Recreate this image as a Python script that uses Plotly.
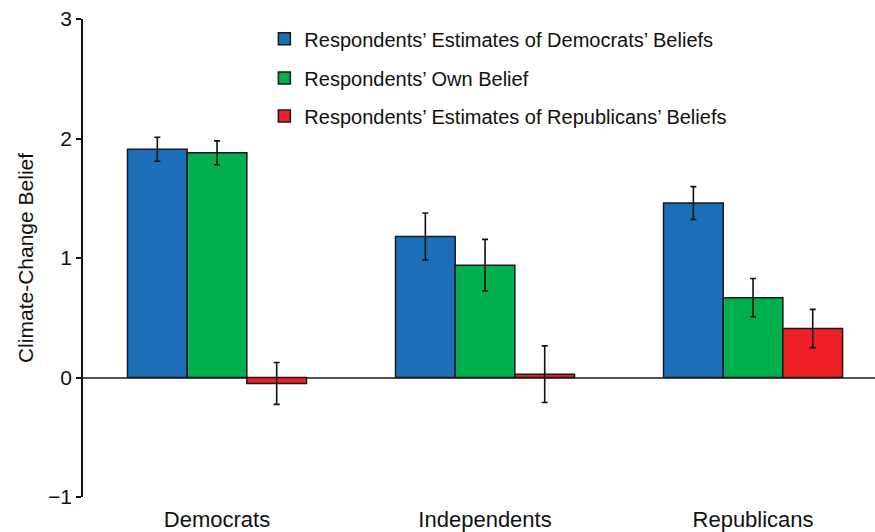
import plotly.graph_objects as go

categories = ["Democrats", "Independents", "Republicans"]
series_names = [
    "Respondents’ Estimates of Democrats’ Beliefs",
    "Respondents’ Own Belief",
    "Respondents’ Estimates of Republicans’ Beliefs",
]
dem_estimates = [1.91, 1.18, 1.46]
dem_estimates_err = [0.10, 0.197, 0.137]
own_belief = [1.88, 0.94, 0.668]
own_belief_err = [0.10, 0.216, 0.16]
rep_estimates = [-0.05, 0.028, 0.41]
rep_estimates_err = [0.175, 0.237, 0.16]
y_tick_vals = [-1, 0, 1, 2, 3]
y_tick_text = ["\u22121", "0", "1", "2", "3"]

colors = ["#1B6EB7", "#00AF4E", "#EE1F26"]
values = [dem_estimates, own_belief, rep_estimates]
errors = [dem_estimates_err, own_belief_err, rep_estimates_err]
legend_ids = ["legend", "legend2", "legend3"]

FONT = "Liberation Sans, Arial, Helvetica, sans-serif"

fig = go.Figure()
for name, vals, errs, col, lg in zip(series_names, values, errors, colors, legend_ids):
    fig.add_trace(go.Bar(
        x=categories, y=vals, name=name, legend=lg,
        marker=dict(color=col, line=dict(color="#1a1a1a", width=1.5)),
        error_y=dict(type="data", array=errs, visible=True,
                     color="#111111", thickness=1.6, width=3),
    ))

PLOT_TOP, PLOT_H = 19, 478
def ypaper(py):
    return (PLOT_TOP + PLOT_H - py) / PLOT_H

legend_common = dict(
    xanchor="left", yanchor="middle", x=0.229,
    font=dict(family=FONT, size=20, color="#111"),
    bgcolor="rgba(0,0,0,0)", borderwidth=0,
)
fig.update_layout(
    width=875, height=532,
    margin=dict(l=83, r=0, t=PLOT_TOP, b=532 - PLOT_TOP - PLOT_H, autoexpand=False),
    plot_bgcolor="white", paper_bgcolor="white",
    font=dict(family=FONT, color="#111"),
    barmode="group", bargap=0.332, bargroupgap=0,
    showlegend=True,
    legend=dict(y=ypaper(38.7), **legend_common),
    legend2=dict(y=ypaper(78), **legend_common),
    legend3=dict(y=ypaper(116), **legend_common),
    xaxis=dict(
        range=[-0.5, 2.455], showline=False, showgrid=False, zeroline=False,
        ticks="", ticklabelstandoff=7,
        tickfont=dict(family=FONT, size=22, color="#111"),
        fixedrange=True, automargin=False,
    ),
    yaxis=dict(
        range=[-1, 3], tickvals=y_tick_vals, ticktext=y_tick_text,
        showline=True, linecolor="#111", linewidth=1.5,
        ticks="outside", ticklen=5, tickwidth=1.5, tickcolor="#111",
        showgrid=False,
        zeroline=True, zerolinecolor="#555", zerolinewidth=1.5,
        tickfont=dict(family=FONT, size=21, color="#111"),
        title=dict(text="Climate-Change Belief", font=dict(family=FONT, size=21, color="#111"), standoff=9),
        fixedrange=True, automargin=False,
    ),
)

fig.write_html(
    "out.html",
    config={"displayModeBar": False},
    post_script="document.body.style.margin='0';document.body.style.overflow='hidden';",
)
